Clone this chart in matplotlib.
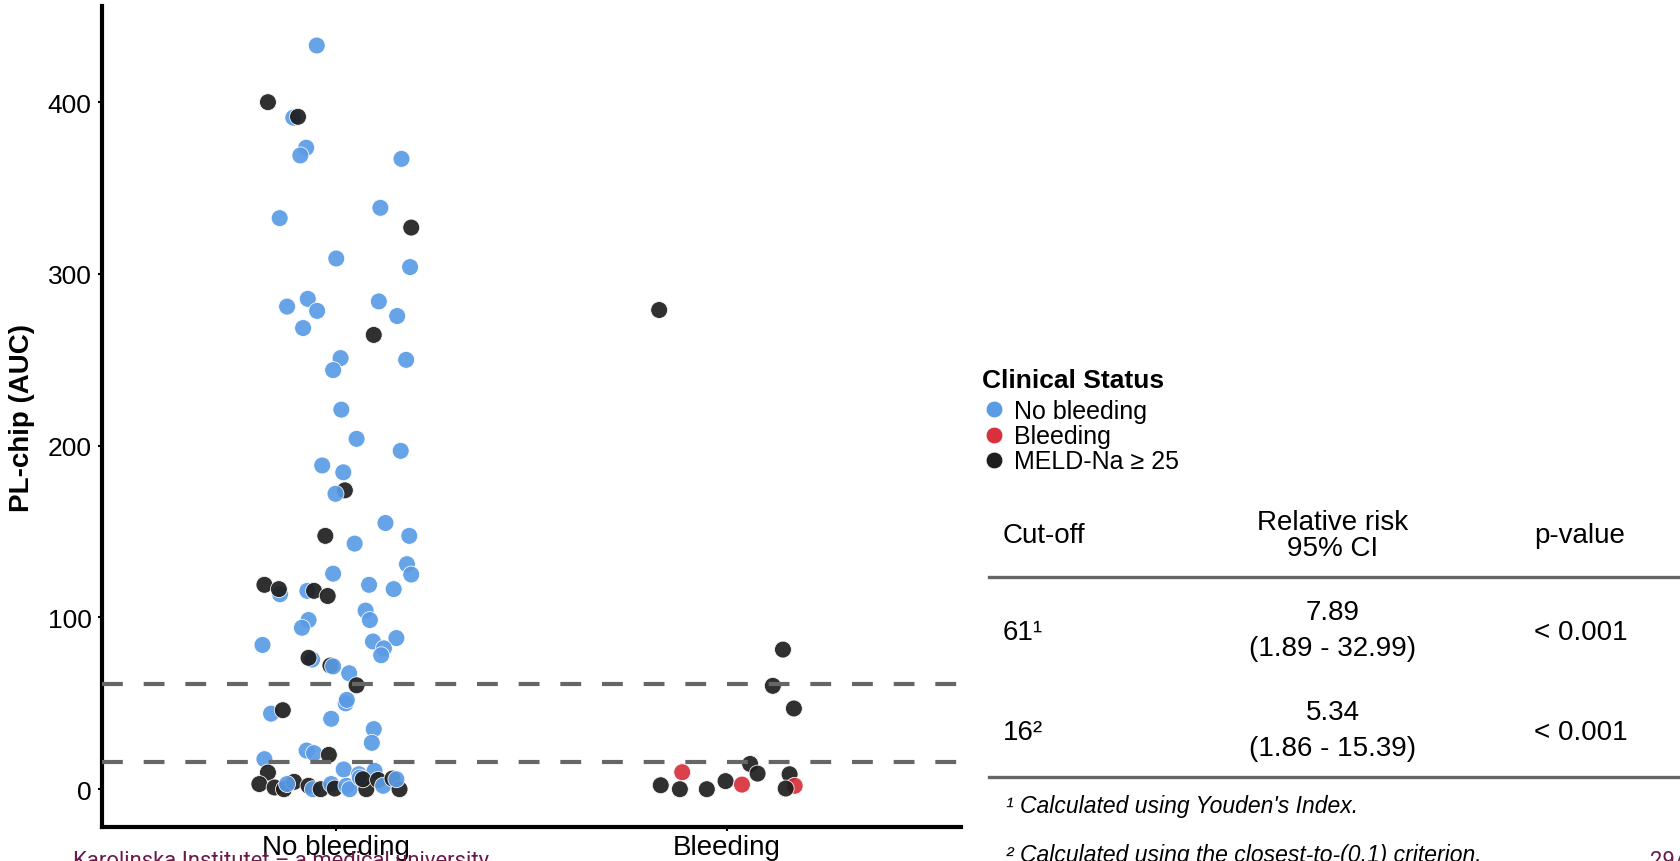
import matplotlib
matplotlib.use("Agg")
import matplotlib.pyplot as plt
from matplotlib.lines import Line2D

plt.rcParams['font.family'] = ['Liberation Sans', 'DejaVu Sans']

# category positions on the x axis
categories = ['No bleeding', 'Bleeding']

# PL-chip AUC per patient, with the horizontal jitter used in the strip plot
nb_jitter = [-0.050, -0.175, -0.110, -0.098, -0.077, -0.092, 0.167, 0.113, -0.145, 0.192,
             0.000, 0.189, -0.073, -0.126, -0.049, 0.109, 0.156, -0.085, 0.096, 0.011,
             -0.008, 0.179, 0.013, 0.052, 0.165, -0.036, 0.018, 0.022, -0.002, -0.028,
             0.126, 0.187, 0.047, 0.181, 0.192, -0.008, -0.184, -0.144, -0.147, -0.074,
             -0.057, -0.022, 0.084, 0.147, 0.075, 0.086, -0.071, -0.088, -0.189, 0.094,
             0.154, 0.122, 0.115, -0.062, -0.071, -0.015, -0.008, 0.033, 0.052, 0.024,
             0.027, -0.167, -0.137, -0.013, 0.096, 0.091, -0.076, -0.057, -0.019, -0.184,
             -0.175, 0.019, 0.058, 0.098, -0.197, -0.158, -0.134, -0.108, -0.126, -0.071,
             -0.060, -0.040, -0.013, -0.004, 0.026, 0.034, 0.077, 0.060, 0.068, 0.107,
             0.120, 0.144, 0.162, 0.154]
nb_value = [433, 400, 391, 391.5, 373.5, 369, 367, 338.5, 332.5, 327,
            309, 304, 285.5, 281, 278.5, 284, 275.5, 268.5, 264.5, 251,
            244, 250, 221, 204, 197, 188.5, 184.5, 174, 172, 147.5,
            155, 147.5, 143, 131, 125, 125.5, 119, 113.5, 116.5, 115.5,
            115.5, 112.5, 119, 116.5, 104, 98.5, 98.5, 94, 84, 86,
            88, 82, 78, 75.5, 76.5, 72, 71.5, 67.5, 60.5, 50,
            52, 44, 46, 41, 35, 27, 22.5, 21, 20, 17.5,
            9.7, 11.5, 8.7, 10.7, 3, 1, 0, 4.3, 3, 2,
            0, 0, 3, 0.4, 2, 0, 0, 6.8, 5.8, 5.4,
            2, 6.2, 0, 5.8]
nb_status = ['N', 'M', 'N', 'M', 'N', 'N', 'N', 'N', 'N', 'M',
             'N', 'N', 'N', 'N', 'N', 'N', 'N', 'N', 'M', 'N',
             'N', 'N', 'N', 'N', 'N', 'N', 'N', 'M', 'N', 'M',
             'N', 'N', 'N', 'N', 'N', 'N', 'M', 'N', 'M', 'N',
             'M', 'M', 'N', 'N', 'N', 'N', 'N', 'N', 'N', 'N',
             'N', 'N', 'N', 'N', 'M', 'M', 'N', 'N', 'M', 'N',
             'N', 'N', 'M', 'N', 'N', 'N', 'N', 'N', 'M', 'N',
             'M', 'N', 'N', 'N', 'M', 'M', 'M', 'M', 'N', 'M',
             'N', 'M', 'N', 'M', 'N', 'N', 'M', 'N', 'M', 'M',
             'N', 'M', 'M', 'N']

bl_jitter = [-0.173, 0.144, 0.118, 0.172, -0.114, -0.169, -0.120, -0.051, -0.003, 0.039,
             0.060, 0.079, 0.161, 0.174, 0.151]
bl_value = [279, 81.3, 60.2, 47, 9.9, 2.3, 0, 0, 4.7, 2.7,
            14.7, 9.1, 8.7, 2, 0.4]
bl_status = ['M', 'M', 'M', 'M', 'B', 'M', 'M', 'M', 'M', 'B',
             'M', 'M', 'M', 'B', 'M']

# cut-offs drawn as dashed lines
cutoffs = [61, 16]

status_labels = {'N': 'No bleeding', 'B': 'Bleeding', 'M': 'MELD-Na ≥ 25'}
status_colors = {'N': '#5A9BE5', 'B': '#D8313B', 'M': '#1E1E1E'}

table_cutoff = ['61¹', '16²']
table_rr = ['7.89', '5.34']
table_ci = ['(1.89 - 32.99)', '(1.86 - 15.39)']
table_p = ['< 0.001', '< 0.001']

W, H = 1680, 862


def fx(x):
    return x / W


def fy(y):
    return 1 - y / H


fig = plt.figure(figsize=(W / 100, H / 100), dpi=100)
ax = fig.add_axes([fx(102), fy(828), (961 - 102) / W, (828 - 7) / H])

xs = [0 + j for j in nb_jitter] + [1 + j for j in bl_jitter]
ys = nb_value + bl_value
cols = [status_colors[s] for s in nb_status + bl_status]
ax.scatter(xs, ys, s=148, c=cols, edgecolors='white', linewidths=0.6,
           alpha=0.92, zorder=2)

for c in cutoffs:
    ax.axhline(c, color='#666666', lw=3, dashes=(5, 5), zorder=3)

ax.set_xlim(-0.6, 1.6)
ax.set_ylim(-22, 456)
ax.set_xticks([0, 1])
ax.set_xticklabels(categories)
ax.set_yticks([0, 100, 200, 300, 400])
ax.tick_params(axis='y', labelsize=19, length=3, width=1.5, pad=4.5)
ax.tick_params(axis='x', labelsize=20, length=3, width=1.5, pad=2)
for side in ['top', 'right']:
    ax.spines[side].set_visible(False)
for side in ['left', 'bottom']:
    ax.spines[side].set_linewidth(3)
ax.set_ylabel('PL-chip (AUC)', fontsize=20, fontweight='bold')
ax.yaxis.set_label_coords(-0.078, 0.5)

# legend
fig.text(fx(982), fy(388), 'Clinical Status', fontsize=19, fontweight='bold',
         ha='left', va='baseline')
handles = [Line2D([], [], ls='', marker='o', markersize=12,
                  markerfacecolor=status_colors[k], markeredgecolor='white',
                  markeredgewidth=0.5) for k in ['N', 'B', 'M']]
fig.legend(handles, [status_labels[k] for k in ['N', 'B', 'M']],
           loc='upper left', bbox_to_anchor=(fx(981.5), fy(400)),
           frameon=False, fontsize=18, handlelength=1, handletextpad=0.3,
           labelspacing=0.05, borderpad=0, borderaxespad=0)

# relative risk table
fs = 20
fig.text(fx(1002.6), fy(543.3), 'Cut-off', fontsize=fs, va='baseline')
fig.text(fx(1332.7), fy(530), 'Relative risk', fontsize=fs, va='baseline', ha='center')
fig.text(fx(1332.7), fy(556), '95% CI', fontsize=fs, va='baseline', ha='center')
fig.text(fx(1534), fy(543.3), 'p-value', fontsize=fs, va='baseline')

rules = [578.3, 778.3]
for r in rules:
    fig.add_artist(Line2D([fx(988.6), 1], [fy(r), fy(r)], color='#666666', lw=2.4))

row_base = [640, 740]
for i in range(2):
    b = row_base[i]
    fig.text(fx(1002.6), fy(b), table_cutoff[i], fontsize=fs, va='baseline')
    fig.text(fx(1332.7), fy(b - 20), table_rr[i], fontsize=fs, va='baseline', ha='center')
    fig.text(fx(1332.7), fy(b + 16.5), table_ci[i], fontsize=fs, va='baseline', ha='center')
    fig.text(fx(1534), fy(b), table_p[i], fontsize=fs, va='baseline')

fig.text(fx(1006), fy(813.3), "¹ Calculated using Youden's Index.", fontsize=16.5,
         style='italic', va='baseline')
fig.text(fx(1006), fy(861.7), "² Calculated using the closest-to-(0,1) criterion.",
         fontsize=16.5, style='italic', va='baseline')

# slide footer
fig.text(fx(73), fy(851), 'Karolinska Institutet – a medical university', fontsize=15.8,
         color='#6a1a4c', family='Roboto', va='top')
fig.text(fx(1650), fy(851), '29/', fontsize=15.8, color='#6a1a4c', family='Roboto', va='top')

fig.savefig('out.png', dpi=100)
